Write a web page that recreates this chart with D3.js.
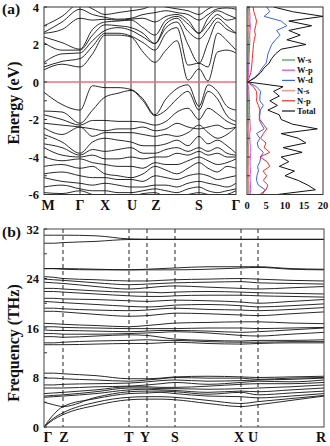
<!DOCTYPE html>
<html>
<head>
<meta charset="utf-8">
<script src="https://cdn.jsdelivr.net/npm/d3@7"></script>
<style>
  body { margin: 0; background: #fff; }
  text { font-family: "Liberation Serif", "Times New Roman", serif; font-weight: bold; fill: #111; }
</style>
</head>
<body>
<div id="chart"></div>
<script>
// ---- Band structure (a) ----
const kLabelsA = ["M", "Γ", "X", "U", "Z", "S", "Γ"];
const kTicksA = [0, 0.36, 0.61, 0.87, 1.11, 1.55, 1.92];
const kSamplesA = [0, 0.18, 0.36, 0.485, 0.61, 0.74, 0.87, 0.99, 1.11, 1.22, 1.33, 1.44, 1.55, 1.64, 1.735, 1.83, 1.92];
const energyTicks = [-6, -4, -2, 0, 2, 4];

const conductionBands = [
  [0.65, 0.95, 0.8, 1.5, 2.5, 2.5, 2.4, 1.6, 1.05, 1.7, 2.2, 0.1, 0.7, 0.05, 1.6, 1.7, 1.55],
  [0.8, 1.1, 1.25, 1.9, 2.6, 2.6, 2.45, 2.1, 1.7, 2.6, 2.9, 0.9, 1.0, 0.8, 2.6, 2.2, 1.7],
  [1.05, 1.5, 1.55, 2.2, 2.75, 2.9, 2.75, 2.4, 2.05, 2.9, 3.2, 2.0, 1.0, 2.1, 3.2, 2.8, 2.6],
  [2.1, 1.7, 1.7, 2.5, 3.05, 3.0, 2.9, 2.6, 2.05, 3.1, 3.4, 2.7, 2.3, 2.8, 3.4, 3.0, 2.6],
  [2.4, 2.1, 1.75, 2.8, 3.2, 3.25, 3.3, 2.9, 2.5, 3.3, 3.5, 3.1, 2.6, 3.1, 3.6, 3.3, 3.4],
  [2.6, 2.8, 3.4, 3.3, 3.35, 3.3, 3.35, 3.4, 3.2, 3.5, 3.6, 3.3, 2.6, 3.4, 3.8, 3.6, 3.4],
  [2.65, 3.2, 3.88, 3.6, 3.45, 3.35, 3.4, 3.6, 3.7, 3.8, 3.7, 3.6, 3.3, 3.6, 3.9, 3.95, 3.88],
  [3.0, 3.5, 4.2, 3.9, 3.6, 3.7, 3.8, 3.9, 4.1, 4.0, 3.9, 3.8, 3.6, 3.9, 4.1, 4.2, 4.2]
];

const valenceBands = [
  [-0.55, -1.2, -1.5, -0.2, -0.3, -0.3, -0.4, -0.9, -1.75, -0.9, -0.35, -0.15, -1.3, -0.15, -0.5, -1.3, -1.5],
  [-1.55, -1.6, -2.2, -1.5, -0.8, -0.6, -0.45, -1.0, -1.8, -1.5, -0.9, -0.5, -1.5, -0.5, -0.9, -1.8, -2.1],
  [-1.75, -2.0, -2.3, -2.05, -2.05, -2.1, -2.1, -2.15, -2.3, -2.1, -1.6, -1.4, -2.0, -1.4, -1.7, -2.1, -2.3],
  [-2.2, -2.3, -2.4, -2.5, -2.6, -2.5, -2.5, -2.4, -2.6, -2.5, -2.2, -2.4, -2.5, -2.4, -2.3, -2.5, -2.4],
  [-2.45, -2.8, -2.4, -2.9, -2.7, -2.7, -2.7, -2.8, -2.9, -2.8, -2.9, -2.7, -2.3, -2.7, -3.0, -2.8, -2.4],
  [-2.8, -3.2, -3.8, -3.2, -3.0, -3.1, -3.2, -3.4, -3.4, -3.3, -3.1, -3.4, -2.9, -3.3, -3.1, -3.4, -3.8],
  [-3.3, -3.5, -3.9, -3.6, -3.7, -3.6, -3.5, -3.8, -3.8, -3.6, -3.5, -3.7, -3.5, -3.7, -3.5, -3.8, -3.9],
  [-3.5, -3.9, -4.0, -3.9, -4.1, -4.1, -4.0, -4.1, -4.0, -4.0, -3.8, -3.9, -3.7, -3.9, -3.8, -4.0, -4.0],
  [-4.0, -4.2, -4.1, -4.3, -4.4, -4.5, -4.5, -4.6, -4.3, -4.4, -4.4, -4.2, -4.0, -4.2, -4.4, -4.3, -4.1],
  [-4.5, -4.4, -4.6, -4.5, -4.9, -5.0, -5.1, -4.9, -4.5, -4.7, -4.9, -4.6, -4.3, -4.6, -4.8, -4.5, -4.6],
  [-4.9, -4.8, -5.0, -5.1, -5.1, -5.2, -5.2, -5.3, -5.0, -5.1, -5.2, -5.0, -4.9, -5.0, -5.2, -5.1, -5.0],
  [-5.1, -5.3, -5.4, -5.5, -5.4, -5.5, -5.6, -5.6, -5.5, -5.5, -5.6, -5.4, -5.3, -5.4, -5.5, -5.6, -5.4],
  [-5.6, -5.5, -5.7, -5.8, -5.8, -5.9, -5.9, -5.8, -5.7, -5.8, -5.9, -5.7, -5.6, -5.8, -5.9, -5.8, -5.7],
  [-5.9, -5.95, -5.8, -6.0, -6.1, -6.1, -6.1, -5.95, -5.9, -6.1, -6.1, -6.0, -5.9, -6.0, -6.1, -6.0, -5.8]
];

// ---- Density of states ----
const dosEnergy = [4, 3.75, 3.5, 3.25, 3, 2.75, 2.5, 2.25, 2, 1.75, 1.5, 1.25, 1, 0.75, 0.5, 0.25, 0,
  -0.25, -0.5, -0.75, -1, -1.25, -1.5, -1.75, -2, -2.25, -2.5, -2.75, -3, -3.25, -3.5, -3.75, -4,
  -4.25, -4.5, -4.75, -5, -5.25, -5.5, -5.75, -6];
const dosWs = [0.4, 0.5, 0.45, 0.5, 0.55, 0.45, 0.5, 0.4, 0.45, 0.4, 0.35, 0.35, 0.3, 0.3, 0.25, 0.2, 0.05,
  0.2, 0.25, 0.3, 0.3, 0.35, 0.3, 0.35, 0.4, 0.35, 0.45, 0.3, 0.35, 0.3, 0.4, 0.35, 0.45, 0.4, 0.35, 0.4, 0.35, 0.4, 0.45, 0.5, 0.4];
const dosWp = [0.6, 0.7, 0.8, 0.75, 0.9, 0.8, 0.7, 0.75, 0.7, 0.65, 0.6, 0.55, 0.5, 0.45, 0.4, 0.3, 0.05,
  0.4, 0.5, 0.55, 0.6, 0.7, 0.65, 0.7, 0.75, 0.8, 0.9, 0.7, 0.75, 0.8, 0.9, 0.85, 0.9, 0.8, 0.85, 0.9, 0.8, 0.85, 0.9, 1.0, 0.8];
const dosWd = [5.2, 6, 4.5, 9, 10.5, 7.8, 8.7, 7.5, 6.5, 6, 5.5, 5.3, 5, 4, 3.2, 2, 0.2,
  2.5, 3.6, 3.4, 3.4, 4.3, 3.5, 3.4, 3.2, 3.8, 4.5, 2.5, 3.4, 2.7, 3, 4.3, 3.6, 3.4, 2.8, 3, 2.6, 2.5, 3, 4.8, 4];
const dosNs = [0.2, 0.25, 0.3, 0.25, 0.3, 0.3, 0.25, 0.25, 0.2, 0.2, 0.2, 0.15, 0.15, 0.15, 0.1, 0.1, 0.02,
  0.1, 0.15, 0.15, 0.15, 0.2, 0.2, 0.2, 0.25, 0.3, 0.35, 0.3, 0.3, 0.25, 0.3, 0.3, 0.35, 0.3, 0.35, 0.4, 0.35, 0.4, 0.5, 0.6, 0.45];
const dosNp = [1.6, 1.8, 2.2, 2.5, 2.3, 2, 2.2, 1.9, 1.7, 1.6, 1.5, 1.4, 1.3, 1.2, 1, 0.6, 0.1,
  1.7, 2.5, 2.6, 2.5, 3, 3.4, 3.2, 3.4, 4.3, 5.2, 4.3, 3.6, 5, 4.5, 6, 3.4, 5.3, 6, 4.2, 5.2, 4.3, 5.5, 5, 3.4];
const dosTotal = [7, 12, 20, 11, 17, 11, 14, 10.5, 15.5, 9, 7.5, 6.5, 5.8, 4.5, 3.6, 2.3, 0.3,
  9.5, 7, 8.5, 6, 8, 5.5, 8.5, 9, 12, 18.5, 9, 13.5, 15.5, 9.5, 14.5, 9, 11, 8.5, 12.5, 10, 13.5, 16, 18, 8];
const dosNames = ["W-s", "W-p", "W-d", "N-s", "N-p", "Total"];
const dosColors = ["#3c9a52", "#d24fd2", "#3f5ff0", "#ff8a8a", "#ee2a2a", "#111111"];
const dosTicks = [0, 5, 10, 15, 20];

// ---- Phonon dispersion (b) ----
const qLabels = ["Γ", "Z", "T", "Y", "S", "X", "U", "R"];
const qTicks = [0, 0.19, 0.85, 1.03, 1.31, 1.97, 2.14, 2.80];
const qSamples = [0, 0.095, 0.19, 0.52, 0.85, 1.03, 1.17, 1.31, 1.64, 1.97, 2.14, 2.47, 2.80];
const freqTicks = [0, 8, 16, 24, 32];

const phononBranches = [
  [0, 1.2, 2.0, 3.5, 4.4, 4.5, 4.5, 4.4, 3.8, 3.3, 3.6, 4.3, 5.0],
  [0, 1.4, 2.3, 4.0, 4.8, 4.9, 4.9, 4.8, 4.3, 3.8, 4.1, 4.6, 5.1],
  [0, 2.0, 3.3, 4.6, 5.4, 5.5, 5.6, 5.4, 5.0, 4.9, 4.7, 5.0, 5.4],
  [4.0, 3.6, 3.3, 4.8, 5.7, 5.8, 5.8, 5.7, 5.3, 5.6, 5.2, 5.5, 5.8],
  [4.8, 4.9, 5.0, 5.4, 6.0, 6.1, 6.0, 5.9, 5.6, 5.8, 5.7, 6.0, 6.3],
  [5.0, 5.1, 5.2, 5.7, 6.3, 6.3, 6.2, 6.2, 6.1, 6.2, 6.3, 6.5, 6.8],
  [5.4, 5.5, 5.6, 6.0, 6.5, 6.5, 6.4, 6.4, 6.6, 6.9, 7.0, 7.0, 7.2],
  [6.3, 6.3, 6.3, 6.5, 6.6, 6.8, 7.0, 7.2, 6.9, 7.2, 7.4, 7.3, 7.6],
  [6.8, 6.8, 6.9, 7.0, 7.1, 7.3, 7.5, 7.6, 7.4, 7.5, 7.6, 7.7, 7.9],
  [7.9, 7.9, 7.8, 7.6, 7.4, 7.6, 7.8, 8.0, 7.9, 7.9, 7.7, 7.9, 8.0],
  [8.7, 8.7, 8.6, 8.3, 7.8, 7.8, 7.9, 8.1, 8.2, 8.1, 8.0, 8.1, 8.2],
  [13.3, 13.3, 13.3, 13.4, 13.5, 13.5, 13.6, 13.7, 13.5, 13.4, 13.5, 13.6, 13.6],
  [13.6, 13.6, 13.7, 13.9, 14.0, 14.1, 14.0, 14.0, 13.8, 13.7, 13.7, 13.8, 13.8],
  [14.6, 14.6, 14.5, 14.7, 14.9, 14.8, 14.5, 14.2, 14.0, 13.9, 14.0, 14.0, 14.1],
  [15.1, 15.1, 15.0, 15.0, 15.1, 15.2, 15.3, 15.4, 15.2, 14.8, 14.7, 15.0, 15.3],
  [15.7, 15.6, 15.6, 15.5, 15.4, 15.5, 15.6, 15.6, 15.5, 15.3, 15.4, 15.7, 16.0],
  [16.2, 16.2, 16.1, 16.0, 15.9, 15.9, 15.9, 15.9, 16.0, 16.0, 15.9, 16.0, 16.1],
  [16.75, 16.7, 16.6, 16.4, 16.2, 16.4, 16.6, 16.8, 16.9, 17.0, 17.0, 16.8, 16.7],
  [18.7, 18.7, 18.6, 18.2, 17.9, 18.0, 18.2, 18.4, 18.3, 18.1, 18.0, 18.3, 18.6],
  [19.2, 19.2, 19.1, 18.9, 18.8, 18.9, 19.1, 19.2, 19.0, 18.9, 18.8, 19.0, 19.3],
  [20.3, 20.2, 20.1, 19.8, 19.5, 19.4, 19.5, 19.7, 19.8, 19.6, 19.4, 19.6, 19.9],
  [20.8, 20.8, 20.7, 20.6, 20.4, 20.3, 20.4, 20.5, 20.4, 20.2, 20.0, 20.3, 20.6],
  [21.9, 21.9, 21.8, 21.5, 21.2, 21.1, 21.1, 21.2, 21.3, 21.3, 21.2, 21.1, 21.0],
  [22.4, 22.4, 22.3, 22.0, 21.8, 21.8, 21.7, 21.8, 21.9, 21.8, 21.7, 21.6, 21.5],
  [23.4, 23.3, 23.2, 22.7, 22.3, 22.5, 22.7, 22.8, 22.6, 22.4, 22.3, 22.5, 22.7],
  [23.9, 23.8, 23.7, 23.3, 23.0, 23.1, 23.2, 23.3, 23.4, 23.5, 23.3, 23.2, 23.1],
  [24.3, 24.2, 24.0, 23.8, 23.6, 23.6, 23.7, 23.8, 23.9, 24.0, 23.9, 23.7, 23.6],
  [25.6, 25.6, 25.5, 25.4, 25.4, 25.4, 25.4, 25.4, 25.5, 25.7, 25.8, 25.5, 25.4],
  [25.6, 25.6, 25.6, 25.5, 25.4, 25.5, 25.6, 25.7, 25.9, 25.9, 25.9, 25.6, 25.5],
  [29.7, 29.7, 29.8, 30.0, 30.3, 30.3, 30.3, 30.3, 30.3, 30.3, 30.3, 30.3, 30.3],
  [31.0, 31.0, 31.0, 30.9, 30.4, 30.35, 30.35, 30.35, 30.35, 30.35, 30.35, 30.35, 30.35]
];

//Chart Settings
const width = 330;
const height = 446;
const svg = d3.select("#chart").append("svg")
  .attr("width", width).attr("height", height)
  .style("background", "#fff");

//Scales
const bandX = d3.scaleLinear().domain([0, 1.92]).range([44, 236]);
const energyY = d3.scaleLinear().domain([-6, 4]).range([194.5, 7]);
const dosX = d3.scaleLinear().domain([0, 20]).range([247, 323]);
const phX = d3.scaleLinear().domain([0, 2.80]).range([44, 324]);
const freqY = d3.scaleLinear().domain([0, 32]).range([427, 229]);

const defs = svg.append("defs");
defs.append("clipPath").attr("id", "clipA").append("rect")
  .attr("x", 44).attr("y", 7).attr("width", 192).attr("height", 187.5);
defs.append("clipPath").attr("id", "clipDos").append("rect")
  .attr("x", 247).attr("y", 7).attr("width", 76).attr("height", 187.5);
defs.append("clipPath").attr("id", "clipB").append("rect")
  .attr("x", 44).attr("y", 229).attr("width", 280).attr("height", 198);

// ===== Panel (a): bands =====
const gA = svg.append("g");
gA.selectAll(".ksym").data(kTicksA.slice(1, -1)).enter().append("line")
  .attr("x1", (d) => bandX(d)).attr("x2", (d) => bandX(d))
  .attr("y1", energyY(4)).attr("y2", energyY(-6))
  .attr("stroke", "#333").attr("stroke-width", 1);

const bandLine = d3.line()
  .x((d, i) => bandX(kSamplesA[i]))
  .y((d) => energyY(d))
  .curve(d3.curveMonotoneX);

const bandG = gA.append("g").attr("clip-path", "url(#clipA)");
bandG.append("line")
  .attr("x1", bandX(0)).attr("x2", bandX(1.92))
  .attr("y1", energyY(0)).attr("y2", energyY(0))
  .attr("stroke", "#f26d78").attr("stroke-width", 1.6);
bandG.selectAll(".band").data(conductionBands.concat(valenceBands)).enter().append("path")
  .attr("d", bandLine)
  .attr("fill", "none").attr("stroke", "#111").attr("stroke-width", 0.9);

gA.append("rect").attr("x", 44).attr("y", 7).attr("width", 192).attr("height", 187.5)
  .attr("fill", "none").attr("stroke", "#333").attr("stroke-width", 1);

//Y axis ticks and labels
gA.selectAll(".etick").data(d3.range(-6, 5, 1)).enter().append("line")
  .attr("x1", 44).attr("x2", 47)
  .attr("y1", (d) => energyY(d)).attr("y2", (d) => energyY(d))
  .attr("stroke", "#333");
gA.selectAll(".elab").data(energyTicks).enter().append("text")
  .attr("x", 39).attr("y", (d) => energyY(d) + 4.5)
  .attr("text-anchor", "end").attr("font-size", "12.5px")
  .text((d) => d);

//K-point labels
const kOffsets = [4, 0, 0, 1, 1, 0, 0];
gA.selectAll(".klab").data(kLabelsA).enter().append("text")
  .attr("x", (d, i) => bandX(kTicksA[i]) + kOffsets[i]).attr("y", 210)
  .attr("text-anchor", "middle").attr("font-size", "14px")
  .text((d) => d);

svg.append("text").attr("transform", "translate(19,103) rotate(-90)")
  .attr("text-anchor", "middle").attr("font-size", "16px").text("Energy (eV)");
svg.append("text").attr("x", 2).attr("y", 14).attr("font-size", "15.5px").text("(a)");

// ===== Panel (a): DOS =====
const gD = svg.append("g");
const dosSeries = [dosWs, dosWp, dosWd, dosNs, dosNp, dosTotal];
const dosLine = d3.line()
  .x((d) => dosX(d))
  .y((d, i) => energyY(dosEnergy[i]));
gD.append("g").attr("clip-path", "url(#clipDos)")
  .selectAll(".dos").data(dosSeries).enter().append("path")
  .attr("d", dosLine)
  .attr("fill", "none")
  .attr("stroke", (d, i) => dosColors[i])
  .attr("stroke-width", 1);

gD.append("rect").attr("x", 247).attr("y", 7).attr("width", 76).attr("height", 187.5)
  .attr("fill", "none").attr("stroke", "#333").attr("stroke-width", 1);
gD.selectAll(".dtick").data(d3.range(-6, 5, 1)).enter().append("line")
  .attr("x1", 247).attr("x2", 250)
  .attr("y1", (d) => energyY(d)).attr("y2", (d) => energyY(d))
  .attr("stroke", "#333");
gD.selectAll(".dlab").data(dosTicks).enter().append("text")
  .attr("x", (d) => dosX(d)).attr("y", 209)
  .attr("text-anchor", "middle").attr("font-size", "10.5px")
  .text((d) => d);

//Legend
const legend = gD.selectAll(".leg").data(dosNames).enter().append("g")
  .attr("transform", (d, i) => `translate(282, ${60 + i * 10.2})`);
legend.append("line").attr("x1", 0).attr("x2", 13).attr("y1", 0).attr("y2", 0)
  .attr("stroke", (d, i) => dosColors[i]).attr("stroke-width", 1.2);
legend.append("text").attr("x", 15).attr("y", 3).attr("font-size", "8.5px").text((d) => d);

// ===== Panel (b): phonons =====
const gB = svg.append("g");
gB.selectAll(".qsym").data(qTicks.slice(1, -1)).enter().append("line")
  .attr("x1", (d) => phX(d)).attr("x2", (d) => phX(d))
  .attr("y1", freqY(32)).attr("y2", freqY(0))
  .attr("stroke", "#222").attr("stroke-width", 1).attr("stroke-dasharray", "4,3");

const phLine = d3.line()
  .x((d, i) => phX(qSamples[i]))
  .y((d) => freqY(d))
  .curve(d3.curveMonotoneX);
gB.append("g").attr("clip-path", "url(#clipB)")
  .selectAll(".ph").data(phononBranches).enter().append("path")
  .attr("d", phLine)
  .attr("fill", "none").attr("stroke", "#111").attr("stroke-width", 0.9);

gB.append("rect").attr("x", 44).attr("y", 229).attr("width", 280).attr("height", 198)
  .attr("fill", "none").attr("stroke", "#444").attr("stroke-width", 1);
gB.selectAll(".ftick").data(d3.range(0, 33, 4)).enter().append("line")
  .attr("x1", 44).attr("x2", 47)
  .attr("y1", (d) => freqY(d)).attr("y2", (d) => freqY(d))
  .attr("stroke", "#333");
gB.selectAll(".flab").data(freqTicks).enter().append("text")
  .attr("x", 39).attr("y", (d) => freqY(d) + 4.5)
  .attr("text-anchor", "end").attr("font-size", "12.5px")
  .text((d) => d);

const qOffsets = [4, 1, 0, -2, 0, -2, -5, -3];
gB.selectAll(".qlab").data(qLabels).enter().append("text")
  .attr("x", (d, i) => phX(qTicks[i]) + qOffsets[i]).attr("y", 442)
  .attr("text-anchor", "middle").attr("font-size", "14px")
  .text((d) => d);

svg.append("text").attr("transform", "translate(19,343) rotate(-90)")
  .attr("text-anchor", "middle").attr("font-size", "16px").text("Frequency (THz)");
svg.append("text").attr("x", 2).attr("y", 237).attr("font-size", "15.5px").text("(b)");
</script>
</body>
</html>
